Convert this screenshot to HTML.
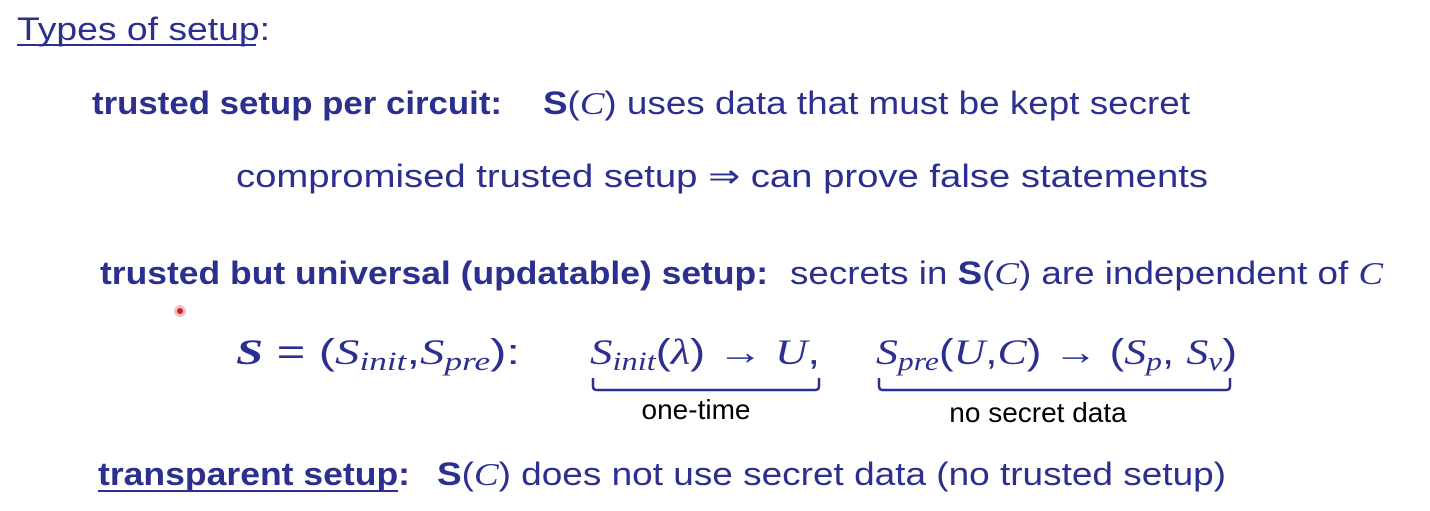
<!DOCTYPE html>
<html><head><meta charset="utf-8"><style>
html,body{margin:0;padding:0;background:#fff;}
svg{display:block;}
text{font-family:"Liberation Sans",sans-serif;fill:#2b2f8f;}
.b{font-weight:bold;}
.m{font-family:"Liberation Serif",serif;font-style:italic;}
</style></head><body>
<svg width="1430" height="511" viewBox="0 0 1430 511">
<rect width="1430" height="511" fill="#fff"/>
<text x="17" y="40" font-size="32" textLength="253" lengthAdjust="spacingAndGlyphs">Types of setup:</text>
<line x1="17" y1="45" x2="256" y2="45" stroke="#2b2f8f" stroke-width="2"/>

<text class="b" x="92" y="114" font-size="32" textLength="410" lengthAdjust="spacingAndGlyphs">trusted setup per circuit:</text>
<text x="543" y="114" font-size="32" textLength="647" lengthAdjust="spacingAndGlyphs"><tspan class="b">S</tspan>(<tspan class="m">C</tspan>) uses data that must be kept secret</text>

<text x="236" y="187" font-size="32" textLength="972" lengthAdjust="spacingAndGlyphs">compromised trusted setup  ⇒  can prove false statements</text>

<text class="b" x="100" y="284" font-size="32" textLength="668" lengthAdjust="spacingAndGlyphs">trusted but universal (updatable) setup:</text>
<text x="790" y="284" font-size="32" textLength="593" lengthAdjust="spacingAndGlyphs">secrets in <tspan class="b">S</tspan>(<tspan class="m">C</tspan>) are independent of <tspan class="m">C</tspan></text>

<circle cx="180" cy="311" r="6" fill="#f4c0c0"/>
<circle cx="180" cy="311" r="3" fill="#d42020"/>

<text x="236" y="364" font-size="36" textLength="284" lengthAdjust="spacingAndGlyphs"><tspan class="m" font-weight="bold">S</tspan> = (<tspan class="m">S</tspan><tspan class="m" font-size="26" dy="6">init</tspan><tspan dy="-6">,</tspan><tspan class="m">S</tspan><tspan class="m" font-size="26" dy="6">pre</tspan><tspan dy="-6">):</tspan></text>
<text x="590" y="364" font-size="36" textLength="230" lengthAdjust="spacingAndGlyphs"><tspan class="m">S</tspan><tspan class="m" font-size="26" dy="6">init</tspan><tspan dy="-6">(</tspan><tspan class="m">λ</tspan>) → <tspan class="m">U</tspan>,</text>
<text x="876" y="364" font-size="36" textLength="361" lengthAdjust="spacingAndGlyphs"><tspan class="m">S</tspan><tspan class="m" font-size="26" dy="6">pre</tspan><tspan dy="-6">(</tspan><tspan class="m">U</tspan>,<tspan class="m">C</tspan>) → (<tspan class="m">S</tspan><tspan class="m" font-size="26" dy="6">p</tspan><tspan dy="-6">, </tspan><tspan class="m">S</tspan><tspan class="m" font-size="26" dy="6">v</tspan><tspan dy="-6">)</tspan></text>

<path d="M593 378 V386 Q593 390 597 390 H815 Q819 390 819 386 V378" fill="none" stroke="#2b2f8f" stroke-width="2.5"/>
<path d="M879 378 V386 Q879 390 883 390 H1226 Q1230 390 1230 386 V378" fill="none" stroke="#2b2f8f" stroke-width="2.5"/>
<text x="696" y="419" font-size="28" text-anchor="middle" style="fill:#000">one-time</text>
<text x="1038" y="422" font-size="28" text-anchor="middle" style="fill:#000">no secret data</text>

<text class="b" x="98" y="485" font-size="32" textLength="312" lengthAdjust="spacingAndGlyphs">transparent setup:</text>
<line x1="98" y1="491" x2="398" y2="491" stroke="#2b2f8f" stroke-width="2"/>
<text x="437" y="485" font-size="32" textLength="789" lengthAdjust="spacingAndGlyphs"><tspan class="b">S</tspan>(<tspan class="m">C</tspan>) does not use secret data (no trusted setup)</text>
</svg>
</body></html>
